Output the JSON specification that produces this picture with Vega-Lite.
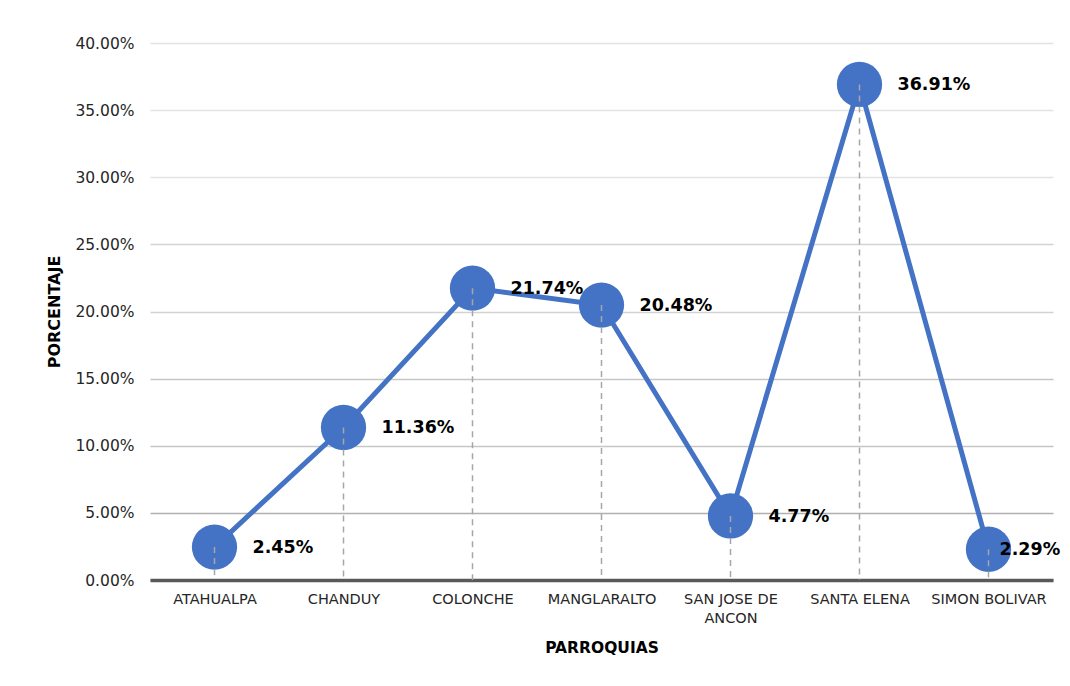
{
  "$schema": "https://vega.github.io/schema/vega-lite/v6.json",
  "width": 903,
  "height": 537,
  "autosize": {"type": "none"},
  "padding": {"left": 150, "top": 43, "right": 17, "bottom": 106},
  "background": "white",
  "config": {
    "view": {"stroke": null},
    "font": "DejaVu Sans",
    "axis": {"labelFont": "DejaVu Sans", "titleFont": "DejaVu Sans"}
  },
  "data": {
    "values": [
      {"parroquia": "ATAHUALPA", "pct": 0.0245, "label": "2.45%"},
      {"parroquia": "CHANDUY", "pct": 0.1136, "label": "11.36%"},
      {"parroquia": "COLONCHE", "pct": 0.2174, "label": "21.74%"},
      {"parroquia": "MANGLARALTO", "pct": 0.2048, "label": "20.48%"},
      {"parroquia": "SAN JOSE DE ANCON", "pct": 0.0477, "label": "4.77%"},
      {"parroquia": "SANTA ELENA", "pct": 0.3691, "label": "36.91%"},
      {"parroquia": "SIMON BOLIVAR", "pct": 0.0229, "label": "2.29%"}
    ]
  },
  "encoding": {
    "x": {
      "field": "parroquia",
      "type": "nominal",
      "sort": null,
      "scale": {"type": "point", "padding": 0.5},
      "axis": {
        "title": "PARROQUIAS",
        "titleFontSize": 15.5,
        "titleFontWeight": "bold",
        "titleColor": "#000000",
        "titlePadding": 16,
        "labelAngle": 0,
        "labelFontSize": 14.5,
        "labelColor": "#262626",
        "labelPadding": 12,
        "labelLineHeight": 19,
        "labelOverlap": false,
        "ticks": false,
        "domainColor": "#595959",
        "domainWidth": 3.5,
        "labelExpr": "datum.label == 'SAN JOSE DE ANCON' ? ['SAN JOSE DE', 'ANCON'] : datum.label"
      }
    },
    "y": {
      "field": "pct",
      "type": "quantitative",
      "scale": {"domain": [0, 0.4], "nice": false},
      "axis": {
        "title": "PORCENTAJE",
        "titleFontSize": 16,
        "titleFontWeight": "bold",
        "titleColor": "#000000",
        "titlePadding": 12,
        "format": ".2%",
        "values": [0, 0.05, 0.1, 0.15, 0.2, 0.25, 0.3, 0.35, 0.4],
        "labelOverlap": false,
        "labelFontSize": 15.5,
        "labelColor": "#262626",
        "labelPadding": 16,
        "ticks": false,
        "domain": false,
        "gridColor": {
          "condition": [
            {"test": "datum.value >= 0.3", "value": "#e2e2e2"},
            {"test": "datum.value >= 0.2", "value": "#d3d3d3"},
            {"test": "datum.value >= 0.1", "value": "#c6c6c6"}
          ],
          "value": "#b0b0b0"
        },
        "gridWidth": 1.5
      }
    }
  },
  "layer": [
    {
      "mark": {"type": "line", "color": "#4472C4", "strokeWidth": 5}
    },
    {
      "mark": {"type": "point", "filled": true, "color": "#4472C4", "opacity": 1, "size": 2050, "shape": "circle"}
    },
    {
      "mark": {"type": "rule", "color": "#a6a6a6", "strokeWidth": 1.5, "strokeDash": [6, 5]},
      "encoding": {"y2": {"datum": 0}}
    },
    {
      "transform": [{"filter": "datum.parroquia != 'SIMON BOLIVAR'"}],
      "mark": {"type": "text", "align": "left", "baseline": "middle", "dx": 38, "dy": 1, "fontSize": 17.5, "fontWeight": "bold", "color": "#000000"},
      "encoding": {"text": {"field": "label"}}
    },
    {
      "transform": [{"filter": "datum.parroquia == 'SIMON BOLIVAR'"}],
      "mark": {"type": "text", "align": "left", "baseline": "middle", "dx": 11, "dy": 1, "fontSize": 17.5, "fontWeight": "bold", "color": "#000000"},
      "encoding": {"text": {"field": "label"}}
    }
  ]
}
